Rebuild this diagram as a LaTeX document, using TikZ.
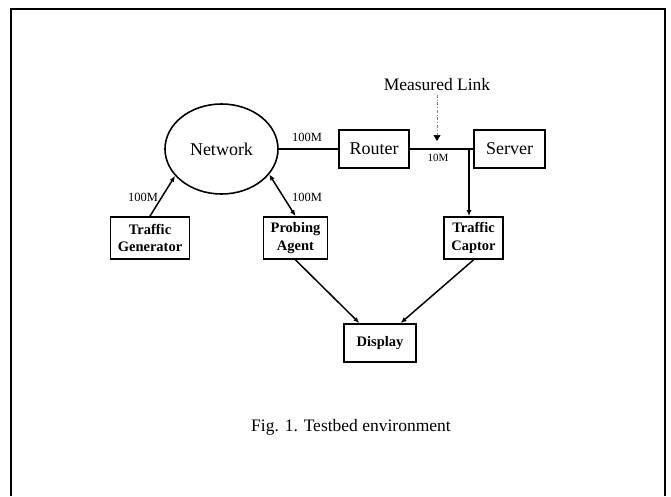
\documentclass[tikz,border=0pt]{standalone}
\usepackage{fontspec}
\setmainfont{Liberation Serif}
\usetikzlibrary{shapes.geometric,arrows.meta}

\begin{document}
\begin{tikzpicture}[x=1pt,y=-1pt,
	box/.style={draw, line width=1.8pt, inner sep=0pt, align=center,
		font=\fontsize{14.5}{17.5}\selectfont\bfseries},
	bigbox/.style={draw, line width=1.8pt, inner sep=0pt,
		font=\fontsize{18}{21}\selectfont},
	lbl/.style={font=\fontsize{12.5}{14}\selectfont, inner sep=0pt},
	link/.style={line width=1.5pt},
	tip/.style={-{Latex[length=6pt,width=5pt]}}]
	\useasboundingbox (0,0) rectangle (671,496);
	\draw[line width=1.8pt] (11,496) -- (11,9) -- (665,9) -- (665,496);

	\node[draw, ellipse, line width=1.6pt, minimum width=113pt, minimum height=90pt,
		font=\fontsize{18}{21}\selectfont] (net) at (221.5,149) {Network};
	\node[bigbox, minimum width=70pt, minimum height=38pt] (router) at (374,149) {Router};
	\node[bigbox, minimum width=71pt, minimum height=38pt] (server) at (509.5,149) {Server};
	\node[box, minimum width=79pt, minimum height=42pt] (gen) at (150,238) {Traffic\\Generator};
	\node[box, minimum width=64pt, minimum height=42pt] (probe) at (295.5,238) {Probing\\Agent};
	\node[box, minimum width=59pt, minimum height=42pt] (captor) at (473.5,238) {Traffic\\Captor};
	\node[box, minimum width=72pt, minimum height=38pt] (disp) at (380,343) {Display};
	\node[font=\fontsize{17.5}{20}\selectfont] (meas) at (437,85) {Measured Link};
	\node[font=\fontsize{17.5}{20}\selectfont] (cap) at (351,427) {Fig. 1. Testbed environment};

	\node[lbl] (bw1) at (307,137) {100M};
	\node[lbl] (bw2) at (143,197) {100M};
	\node[lbl] (bw3) at (307,197) {100M};
	\node[lbl, font=\fontsize{11}{13}\selectfont] (bw4) at (438,158) {10M};

	\coordinate (tap) at (469,149);
	\coordinate (mtip) at (437,141);

	\draw[link] (net) -- (router) -- (server);
	\draw[link, tip] (tap) -- (tap |- captor.north);
	\draw[link, tip] (gen.north) -- (net.210);
	\draw[link, {Latex[length=6pt,width=5pt]}-{Latex[length=6pt,width=5pt]}] (net.332) -- (probe.north);
	\draw[link, tip] (probe.south) -- (disp.136);
	\draw[link, tip] (captor.south) -- (disp.44);
	\draw[line width=0.6pt, gray, dash dot, -{Triangle[length=6pt,width=7pt,black]}] (meas.south) -- (mtip);
\end{tikzpicture}
\end{document}
